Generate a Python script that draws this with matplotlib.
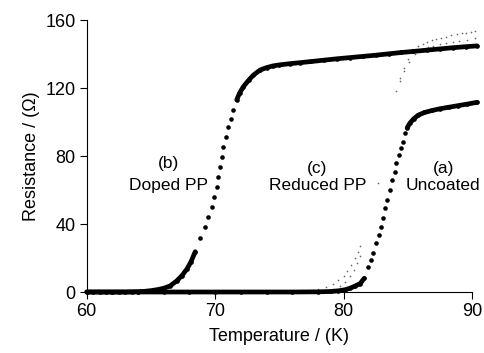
import numpy as np
from matplotlib import pyplot as plt

plt.rcParams['font.family'] = ['Liberation Sans', 'DejaVu Sans']

# (b) Doped PP
T_b = [60, 60.5, 61, 61.5, 62, 62.5, 63, 63.5, 64, 64.5, 65, 65.5, 66, 66.5, 67, 67.4,
       67.8, 68.1, 68.45, 68.83, 69.2, 69.47, 69.73, 69.9, 70.12, 70.25, 70.38, 70.5,
       70.64, 70.85, 71.03, 71.2, 71.42, 71.68, 71.9, 72.2, 72.6, 72.98, 73.5, 74, 74.5,
       75, 75.8, 76.6, 77.5, 78.5, 79.5, 80.5, 81.5, 82.5, 83.5, 84.5, 85.4, 86.5, 87.5,
       88.5, 89.5, 90.4]
R_b = [0, 0, 0, 0, 0, 0, 0, 0.1, 0.2, 0.4, 0.8, 1.4, 2.2, 3.6, 6.5, 9.5,
       13.5, 17.5, 23.7, 31.6, 38.4, 44.3, 50.2, 56, 62, 67.8, 73.7, 79.6,
       85.5, 91.4, 97.2, 102, 107, 113, 117, 120.8, 124.5, 127.6, 130.6, 132, 133,
       133.6, 134.3, 134.9, 135.6, 136.4, 137.2, 137.9, 138.6, 139.3, 140.1, 140.9, 141.5,
       142.3, 143, 143.7, 144.3, 144.8]

# (a) Uncoated
T_a = [60, 62, 64, 66, 68, 70, 72, 74, 76, 78, 79, 79.6, 80.1, 80.5, 80.9, 81.3, 81.6,
       81.9, 82.1, 82.3, 82.55, 82.73, 82.9, 83.05, 83.2, 83.4, 83.6, 83.8, 84.0, 84.1,
       84.3, 84.45, 84.6, 84.8, 84.95, 85.15, 85.45, 85.8, 86.3, 86.9, 87.5, 88.2, 88.9,
       89.6, 90.4]
R_a = [0, 0, 0, 0, 0, 0, 0, 0, 0, 0.1, 0.3, 0.7, 1.3, 2.2, 3.5, 5, 8,
       14.9, 19, 22.8, 28.6, 33.5, 38.4, 43.3, 49.2, 54, 60, 66, 70.8, 75.7,
       80.6, 84.5, 88.4, 93.3, 96.5, 99.2, 101.8, 104, 105.6, 106.8, 107.8, 108.7, 109.6,
       110.5, 111.6]

# (c) Reduced PP, two faint runs
T_c1 = [75, 76, 77, 77.6, 78, 78.6, 79.2, 79.6, 80, 80.3, 80.6, 80.9, 81.1, 81.3, 82.7,
        84.1, 84.4, 84.7, 85, 85.4, 85.8, 86.2, 86.5, 86.9, 87.2, 87.6, 88, 88.4, 88.8,
        89.2, 89.5, 89.9, 90.2]
R_c1 = [0, 0.3, 0.8, 1.4, 2, 3.2, 5, 7, 9.5, 12.5, 16, 20, 23.5, 27, 64,
        118, 126, 132, 137, 141.5, 144.5, 146, 147, 148, 148.7, 149.5, 150.3, 151, 151.6,
        152.1, 152.5, 152.9, 153.3]
T_c2 = [78.5, 79.2, 79.7, 80.1, 80.5, 80.8, 81.05, 81.25, 84.4, 84.7, 85.1, 85.6, 85.9,
        86.2, 86.6, 87, 87.5, 88, 88.5, 89, 89.6, 90.2]
R_c2 = [0.8, 2, 3.5, 6, 9.5, 13, 17, 21, 124, 130, 135.5, 140, 141.8,
        143, 144, 144.8, 145.7, 146.5, 147.2, 147.8, 148.5, 149.2]


def dense(T, R, lo, hi):
    R = np.asarray(R, dtype=float)
    return np.asarray(T, dtype=float), np.ma.masked_where((R > lo) & (R < hi), R)


fig = plt.figure(figsize=(4.85, 3.53), dpi=100)
ax = fig.add_axes([0.1788, 0.1728, 0.7944, 0.7705])

ax.plot(T_c1, R_c1, '.', color='0.4', ms=2.4, mew=0, clip_on=False)
ax.plot(T_c2, R_c2, '.', color='0.4', ms=2.4, mew=0, clip_on=False)

for T, R, lo, hi in [(T_b, R_b, 24, 112), (T_a, R_a, 12, 96)]:
    ax.plot(T, R, 'o', color='k', ms=3.3, mew=0, clip_on=False)
    x, y = dense(T, R, lo, hi)
    ax.plot(x, y, '-', color='k', lw=3.4, solid_capstyle='round', clip_on=False)

ax.text(66.33, 75.5, "(b)", ha='center', va='center', fontsize=12.5)
ax.text(66.4, 62.5, "Doped PP", ha='center', va='center', fontsize=12.5)
ax.text(77.9, 72.5, "(c)", ha='center', va='center', fontsize=12.5)
ax.text(78.0, 62.5, "Reduced PP", ha='center', va='center', fontsize=12.5)
ax.text(87.75, 72.5, "(a)", ha='center', va='center', fontsize=12.5)
ax.text(87.7, 62.5, "Uncoated", ha='center', va='center', fontsize=12.5)

ax.set_xlim(60, 90)
ax.set_ylim(0, 160)
ax.set_xticks([60, 70, 80, 90])
ax.set_yticks([0, 40, 80, 120, 160])
ax.spines['top'].set_visible(False)
ax.spines['right'].set_visible(False)
for s in ['left', 'bottom']:
    ax.spines[s].set_linewidth(0.8)
ax.tick_params(direction='out', length=5, width=0.8, labelsize=13, pad=3)
ax.set_xlabel("Temperature / (K)", fontsize=13, labelpad=6)
ax.set_ylabel("Resistance / (Ω)", fontsize=13, labelpad=4)

fig.savefig('out.png', dpi=100)
